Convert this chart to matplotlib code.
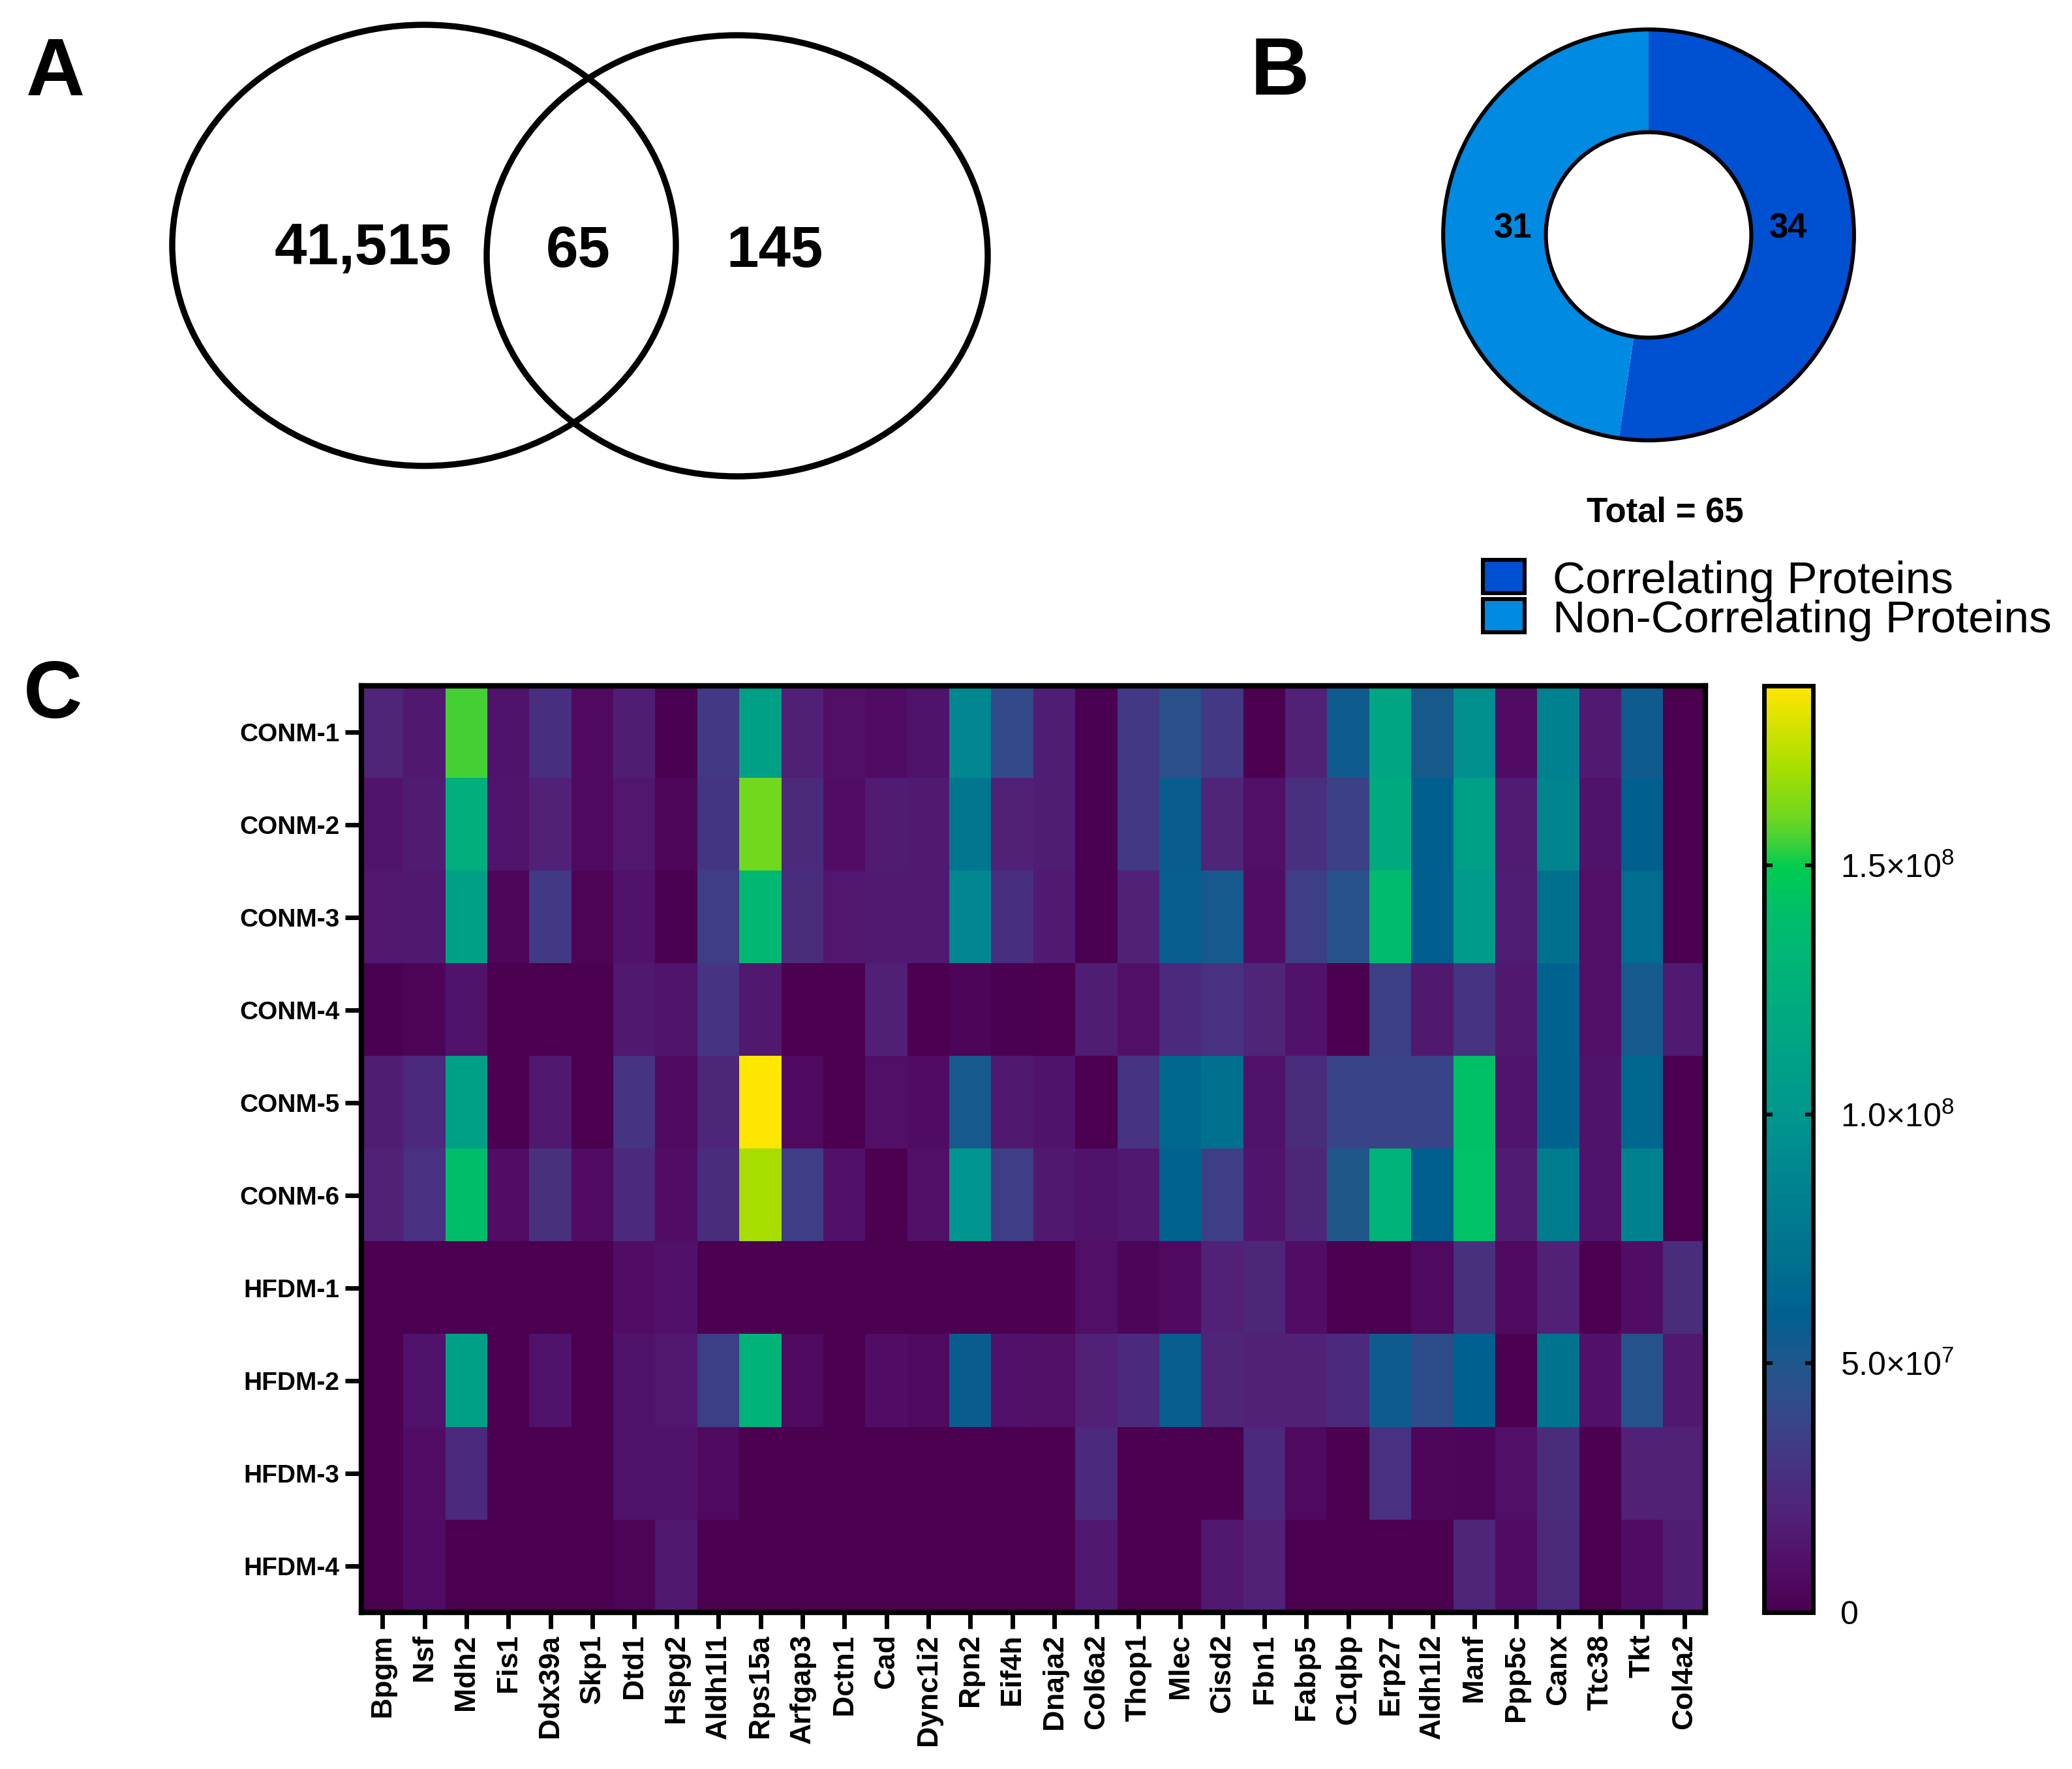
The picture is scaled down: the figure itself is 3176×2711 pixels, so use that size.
import numpy as np
import matplotlib.pyplot as plt
from matplotlib.colors import LinearSegmentedColormap
from matplotlib.patches import Ellipse, Circle, Rectangle

plt.rcParams['font.family'] = ['Liberation Sans', 'DejaVu Sans']
plt.rcParams['mathtext.fontset'] = 'custom'
plt.rcParams['mathtext.rm'] = 'Liberation Sans'

W, H = 3176, 2711
DPI = 200

# --- data ---
venn_counts = [41515, 65, 145]

donut_labels = ['Correlating Proteins', 'Non-Correlating Proteins']
donut_values = [34, 31]
donut_colors = ['#0050D2', '#008AE2']

proteins = ['Bpgm', 'Nsf', 'Mdh2', 'Fis1', 'Ddx39a', 'Skp1', 'Dtd1', 'Hspg2',
            'Aldh1l1', 'Rps15a', 'Arfgap3', 'Dctn1', 'Cad', 'Dync1i2', 'Rpn2',
            'Eif4h', 'Dnaja2', 'Col6a2', 'Thop1', 'Mlec', 'Cisd2', 'Fbn1',
            'Fabp5', 'C1qbp', 'Erp27', 'Aldh1l2', 'Manf', 'Ppp5c', 'Canx',
            'Ttc38', 'Tkt', 'Col4a2']
samples = ['CONM-1', 'CONM-2', 'CONM-3', 'CONM-4', 'CONM-5', 'CONM-6',
           'HFDM-1', 'HFDM-2', 'HFDM-3', 'HFDM-4']

# intensities in units of 1e7
conm1 = [2.2, 1.5, 15.5, 1.2, 2.7, 0.7, 1.8, 0.1, 3.2, 11, 1.9, 1.0, 0.8, 1.2, 9, 4.2,
         1.8, 0.1, 3.2, 4.5, 3.2, 0, 2.0, 5.5, 11.5, 5.2, 9.5, 0.8, 8.5, 1.6, 5.5, 0]
conm2 = [1.3, 1.7, 12.5, 1.3, 2.0, 0.7, 1.4, 0.5, 3.1, 16, 2.5, 0.9, 1.7, 1.6, 7.5, 2.0,
         1.8, 0.1, 3.3, 5.7, 2.2, 1.0, 2.8, 3.7, 12, 6.0, 11, 1.7, 8.8, 1.2, 6.0, 0]
conm3 = [1.4, 1.5, 11, 0.5, 3.3, 0.3, 1.2, 0.1, 3.5, 13.5, 2.6, 1.4, 1.6, 1.6, 9, 2.7,
         1.6, 0.1, 2.1, 5.8, 5.3, 0.9, 3.5, 4.6, 13.8, 6.0, 10.5, 1.8, 7.0, 1.0, 6.8, 0]
conm4 = [0.1, 0.3, 1.2, 0, 0, 0, 1.5, 1.3, 3.0, 1.5, 0, 0, 1.9, 0.05, 0.4, 0.1,
         0, 1.8, 1.0, 2.4, 2.9, 2.2, 1.2, 0, 3.6, 1.5, 3.0, 1.5, 6.2, 1.0, 5.3, 1.6]
conm5 = [1.8, 2.4, 11, 0, 1.5, 0, 3.0, 0.7, 2.3, 18.6, 0.6, 0, 1.0, 0.8, 5.3, 1.5,
         1.2, 0, 3.0, 6.5, 7.0, 1.2, 2.6, 3.8, 3.8, 3.8, 14.1, 1.3, 6.2, 1.2, 6.5, 0]
conm6 = [2.1, 2.9, 14, 0.9, 2.8, 0.8, 2.4, 0.9, 2.6, 17, 3.5, 1.1, 0, 1.0, 10, 3.5,
         1.5, 1.2, 1.5, 6.2, 3.5, 1.3, 2.3, 5.0, 13, 6.0, 14.2, 1.7, 8.0, 1.2, 8.5, 0]
hfdm1 = [0, 0, 0, 0, 0, 0, 0.9, 1.1, 0, 0, 0, 0, 0, 0, 0, 0,
         0, 1.0, 0.4, 0.7, 2.0, 2.3, 0.9, 0, 0, 0.6, 2.8, 0.7, 2.0, 0, 0.9, 2.6]
hfdm2 = [0, 1.2, 11, 0, 1.2, 0, 1.2, 1.4, 3.6, 13, 0.6, 0, 0.9, 0.6, 5.7, 1.1,
         1.0, 2.0, 2.4, 5.8, 2.2, 2.0, 2.0, 2.4, 5.5, 4.3, 6.1, 0, 7.3, 1.1, 4.7, 1.5]
hfdm3 = [0, 0.9, 2.4, 0, 0, 0, 1.2, 1.2, 0.7, 0, 0, 0, 0, 0, 0, 0,
         0, 2.4, 0, 0, 0, 2.4, 0.6, 0, 2.9, 0.5, 0.4, 1.0, 2.6, 0, 2.0, 2.0]
hfdm4 = [0, 0.8, 0, 0, 0, 0, 0.3, 1.5, 0, 0, 0, 0, 0, 0, 0, 0,
         0, 1.5, 0, 0, 1.5, 2.0, 0, 0, 0, 0, 2.2, 0.8, 2.5, 0, 0.8, 1.8]

cbar_ticks = [0, 5e7, 1e8, 1.5e8]
cbar_ticklabels = ['0', r'5.0$\times$10$^{7}$', r'1.0$\times$10$^{8}$', r'1.5$\times$10$^{8}$']
VMAX = 1.86e8

# colour scale (Prism-like viridis)
stops = [(0.0, '#4B0050'), (0.054, '#52106A'), (0.107, '#502278'), (0.161, '#463482'),
         (0.215, '#36488A'), (0.269, '#1E588C'), (0.323, '#006090'), (0.376, '#00708F'),
         (0.43, '#007C8F'), (0.484, '#008890'), (0.538, '#00968E'), (0.591, '#00A088'),
         (0.645, '#00AA80'), (0.699, '#00B478'), (0.753, '#00BE6C'), (0.806, '#00CC50'),
         (0.833, '#40D038'), (0.86, '#70D820'), (0.914, '#A8DF00'), (1.0, '#FFE600')]
cmap = LinearSegmentedColormap.from_list('prism_viridis', stops)


def box(x0, y0, x1, y1):
    # pixel box (top-left origin) -> figure fraction
    return [x0 / W, 1 - y1 / H, (x1 - x0) / W, (y1 - y0) / H]


fig = plt.figure(figsize=(W / DPI, H / DPI), dpi=DPI)

# overlay for panel letters, venn, legend
ov = fig.add_axes([0, 0, 1, 1])
ov.set_xlim(0, W)
ov.set_ylim(H, 0)
ov.axis('off')

ov.text(40, 146, 'A', fontsize=45, weight='bold', va='baseline')
ov.text(1917, 145, 'B', fontsize=45, weight='bold', va='baseline')
ov.text(36, 1100, 'C', fontsize=45, weight='bold', va='baseline')

# --- A: venn ---
ov.add_patch(Ellipse((650, 376), 772, 676, fill=False, ec='black', lw=3.4))
ov.add_patch(Ellipse((1130, 392), 768, 676, fill=False, ec='black', lw=3.4))
ov.text(557, 405, f'{venn_counts[0]:,}', ha='center', va='baseline', fontsize=32, weight='bold')
ov.text(886, 409, f'{venn_counts[1]:,}', ha='center', va='baseline', fontsize=32, weight='bold')
ov.text(1188, 409, f'{venn_counts[2]:,}', ha='center', va='baseline', fontsize=32, weight='bold')

# --- B: donut ---
axd = fig.add_axes(box(2209, 42, 2845, 678))
axd.pie(donut_values, colors=donut_colors, startangle=90, counterclock=False,
        radius=1, wedgeprops=dict(width=0.5, linewidth=0))
axd.add_patch(Circle((0, 0), 1, fill=False, ec='black', lw=2.2))
axd.add_patch(Circle((0, 0), 0.5, fill=False, ec='black', lw=2.2))
axd.set_xlim(-1.01, 1.01)
axd.set_ylim(-1.01, 1.01)
axd.text(0.68, 0.03, str(donut_values[0]), ha='center', va='center', fontsize=19, weight='bold')
axd.text(-0.66, 0.03, str(donut_values[1]), ha='center', va='center', fontsize=19, weight='bold')

ov.text(2552, 800, f'Total = {sum(donut_values)}', ha='center', va='baseline',
        fontsize=19, weight='bold')

for i, (lab, col) in enumerate(zip(donut_labels, donut_colors)):
    y0 = 858 + i * 60
    ov.add_patch(Rectangle((2273, y0), 64, 51, fc=col, ec='black', lw=2.2))
    ov.text(2380, y0 + 51, lab, va='baseline', fontsize=25)

# --- C: heatmap ---
data = np.array([conm1, conm2, conm3, conm4, conm5, conm6,
                 hfdm1, hfdm2, hfdm3, hfdm4]) * 1e7

ax = fig.add_axes(box(554, 1051, 2614, 2471))
im = ax.imshow(data, cmap=cmap, vmin=0, vmax=VMAX, aspect='auto', interpolation='nearest')
ax.set_xticks(np.arange(len(proteins)))
ax.set_xticklabels(proteins, rotation=90, fontsize=16, weight='bold')
ax.set_yticks(np.arange(len(samples)))
ax.set_yticklabels(samples, fontsize=14, weight='bold')
ax.tick_params(length=9, width=2.5, pad=3)
for s in ax.spines.values():
    s.set_linewidth(3)

cax = fig.add_axes(box(2704, 1051, 2779, 2471))
cb = fig.colorbar(im, cax=cax)
cb.set_ticks(cbar_ticks)
cb.set_ticklabels(cbar_ticklabels)
cb.outline.set_linewidth(2.5)
cax.tick_params(direction='in', length=4.5, width=2, left=True, right=True,
                labelleft=False, labelright=True, labelsize=18, pad=15)

fig.savefig('out.png', dpi=DPI)
